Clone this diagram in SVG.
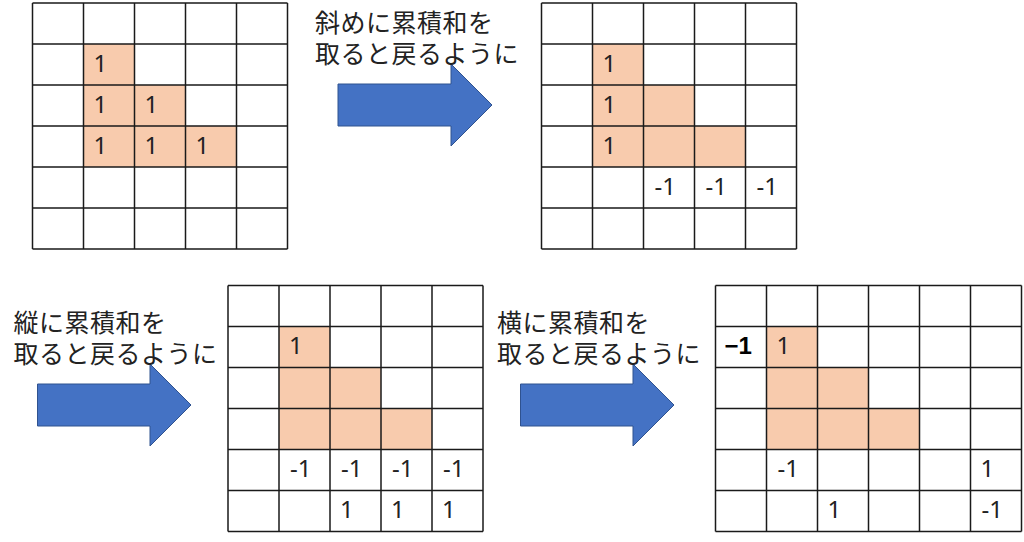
<svg xmlns="http://www.w3.org/2000/svg" width="1024" height="542" viewBox="0 0 1024 542">
<style>
.bg{fill:#ffffff}
.hl{fill:#F8CBAD;stroke:none}
.grid{fill:none;stroke:#1a1a1a;stroke-width:1.5}
.num{font-family:"Noto Sans","Noto Sans CJK JP",sans-serif;font-size:24px;fill:#222}
.bold{font-family:"Liberation Sans",Arial,sans-serif;font-size:24px;font-weight:bold;fill:#000}
.lbl{font-family:"Noto Sans CJK JP","Noto Sans",sans-serif;font-size:25px;letter-spacing:0.5px;fill:#222}
.arrow{fill:#4472C4;stroke:#2F528F;stroke-width:1}
</style>
<rect class="bg" x="0" y="0" width="1024" height="542"/>

<g id="grid1">
<path class="hl" d="M83.5 44H134.5V85H185.5V126H236.5V167H83.5Z"/>
<path class="grid" d="M32.5 3V249M83.5 3V249M134.5 3V249M185.5 3V249M236.5 3V249M287.5 3V249M32.5 3H287.5M32.5 44H287.5M32.5 85H287.5M32.5 126H287.5M32.5 167H287.5M32.5 208H287.5M32.5 249H287.5"/>
<text class="num" x="93.5" y="71.5">1</text>
<text class="num" x="93.5" y="112.5">1</text>
<text class="num" x="144.5" y="112.5">1</text>
<text class="num" x="93.5" y="153.5">1</text>
<text class="num" x="144.5" y="153.5">1</text>
<text class="num" x="195.5" y="153.5">1</text>
</g>

<g id="grid2">
<path class="hl" d="M592.5 44H643.5V85H694.5V126H745.5V167H592.5Z"/>
<path class="grid" d="M541.5 3V249M592.5 3V249M643.5 3V249M694.5 3V249M745.5 3V249M796.5 3V249M541.5 3H796.5M541.5 44H796.5M541.5 85H796.5M541.5 126H796.5M541.5 167H796.5M541.5 208H796.5M541.5 249H796.5"/>
<text class="num" x="602.5" y="71.5">1</text>
<text class="num" x="602.5" y="112.5">1</text>
<text class="num" x="602.5" y="153.5">1</text>
<text class="num" x="654.5" y="194.5">-1</text>
<text class="num" x="705.5" y="194.5">-1</text>
<text class="num" x="756.5" y="194.5">-1</text>
</g>

<g id="grid3">
<path class="hl" d="M279 326.5H330V367.5H381V408.5H432V449.5H279Z"/>
<path class="grid" d="M228 285.5V531.5M279 285.5V531.5M330 285.5V531.5M381 285.5V531.5M432 285.5V531.5M483 285.5V531.5M228 285.5H483M228 326.5H483M228 367.5H483M228 408.5H483M228 449.5H483M228 490.5H483M228 531.5H483"/>
<text class="num" x="289" y="354">1</text>
<text class="num" x="290" y="477">-1</text>
<text class="num" x="341" y="477">-1</text>
<text class="num" x="392" y="477">-1</text>
<text class="num" x="443" y="477">-1</text>
<text class="num" x="340" y="518">1</text>
<text class="num" x="391" y="518">1</text>
<text class="num" x="442" y="518">1</text>
</g>

<g id="grid4">
<path class="hl" d="M766.5 326.5H817.5V367.5H868.5V408.5H919.5V449.5H766.5Z"/>
<path class="grid" d="M715.5 285.5V531.5M766.5 285.5V531.5M817.5 285.5V531.5M868.5 285.5V531.5M919.5 285.5V531.5M970.5 285.5V531.5M1021.5 285.5V531.5M715.5 285.5H1021.5M715.5 326.5H1021.5M715.5 367.5H1021.5M715.5 408.5H1021.5M715.5 449.5H1021.5M715.5 490.5H1021.5M715.5 531.5H1021.5"/>
<text class="bold" x="724.5" y="354">−1</text>
<text class="num" x="776.5" y="354">1</text>
<text class="num" x="777.5" y="477">-1</text>
<text class="num" x="980.5" y="477">1</text>
<text class="num" x="827.5" y="518">1</text>
<text class="num" x="981.5" y="518">-1</text>
</g>

<g id="connectors">
<g id="arrow1">
<polygon class="arrow" points="338,84 451,84 451,64 492,105 451,146 451,126 338,126"/>
<text class="lbl" x="315" y="32">斜めに累積和を</text>
<text class="lbl" x="315" y="63">取ると戻るように</text>
</g>
<g id="arrow2">
<polygon class="arrow" points="37.5,384 150,384 150,364 191,405 150,446 150,426 37.5,426"/>
<text class="lbl" x="13.5" y="332">縦に累積和を</text>
<text class="lbl" x="13.5" y="363">取ると戻るように</text>
</g>
<g id="arrow3">
<polygon class="arrow" points="520.5,384 633,384 633,364 674,405 633,446 633,426 520.5,426"/>
<text class="lbl" x="497" y="332">横に累積和を</text>
<text class="lbl" x="497" y="363">取ると戻るように</text>
</g>
</g>
</svg>
